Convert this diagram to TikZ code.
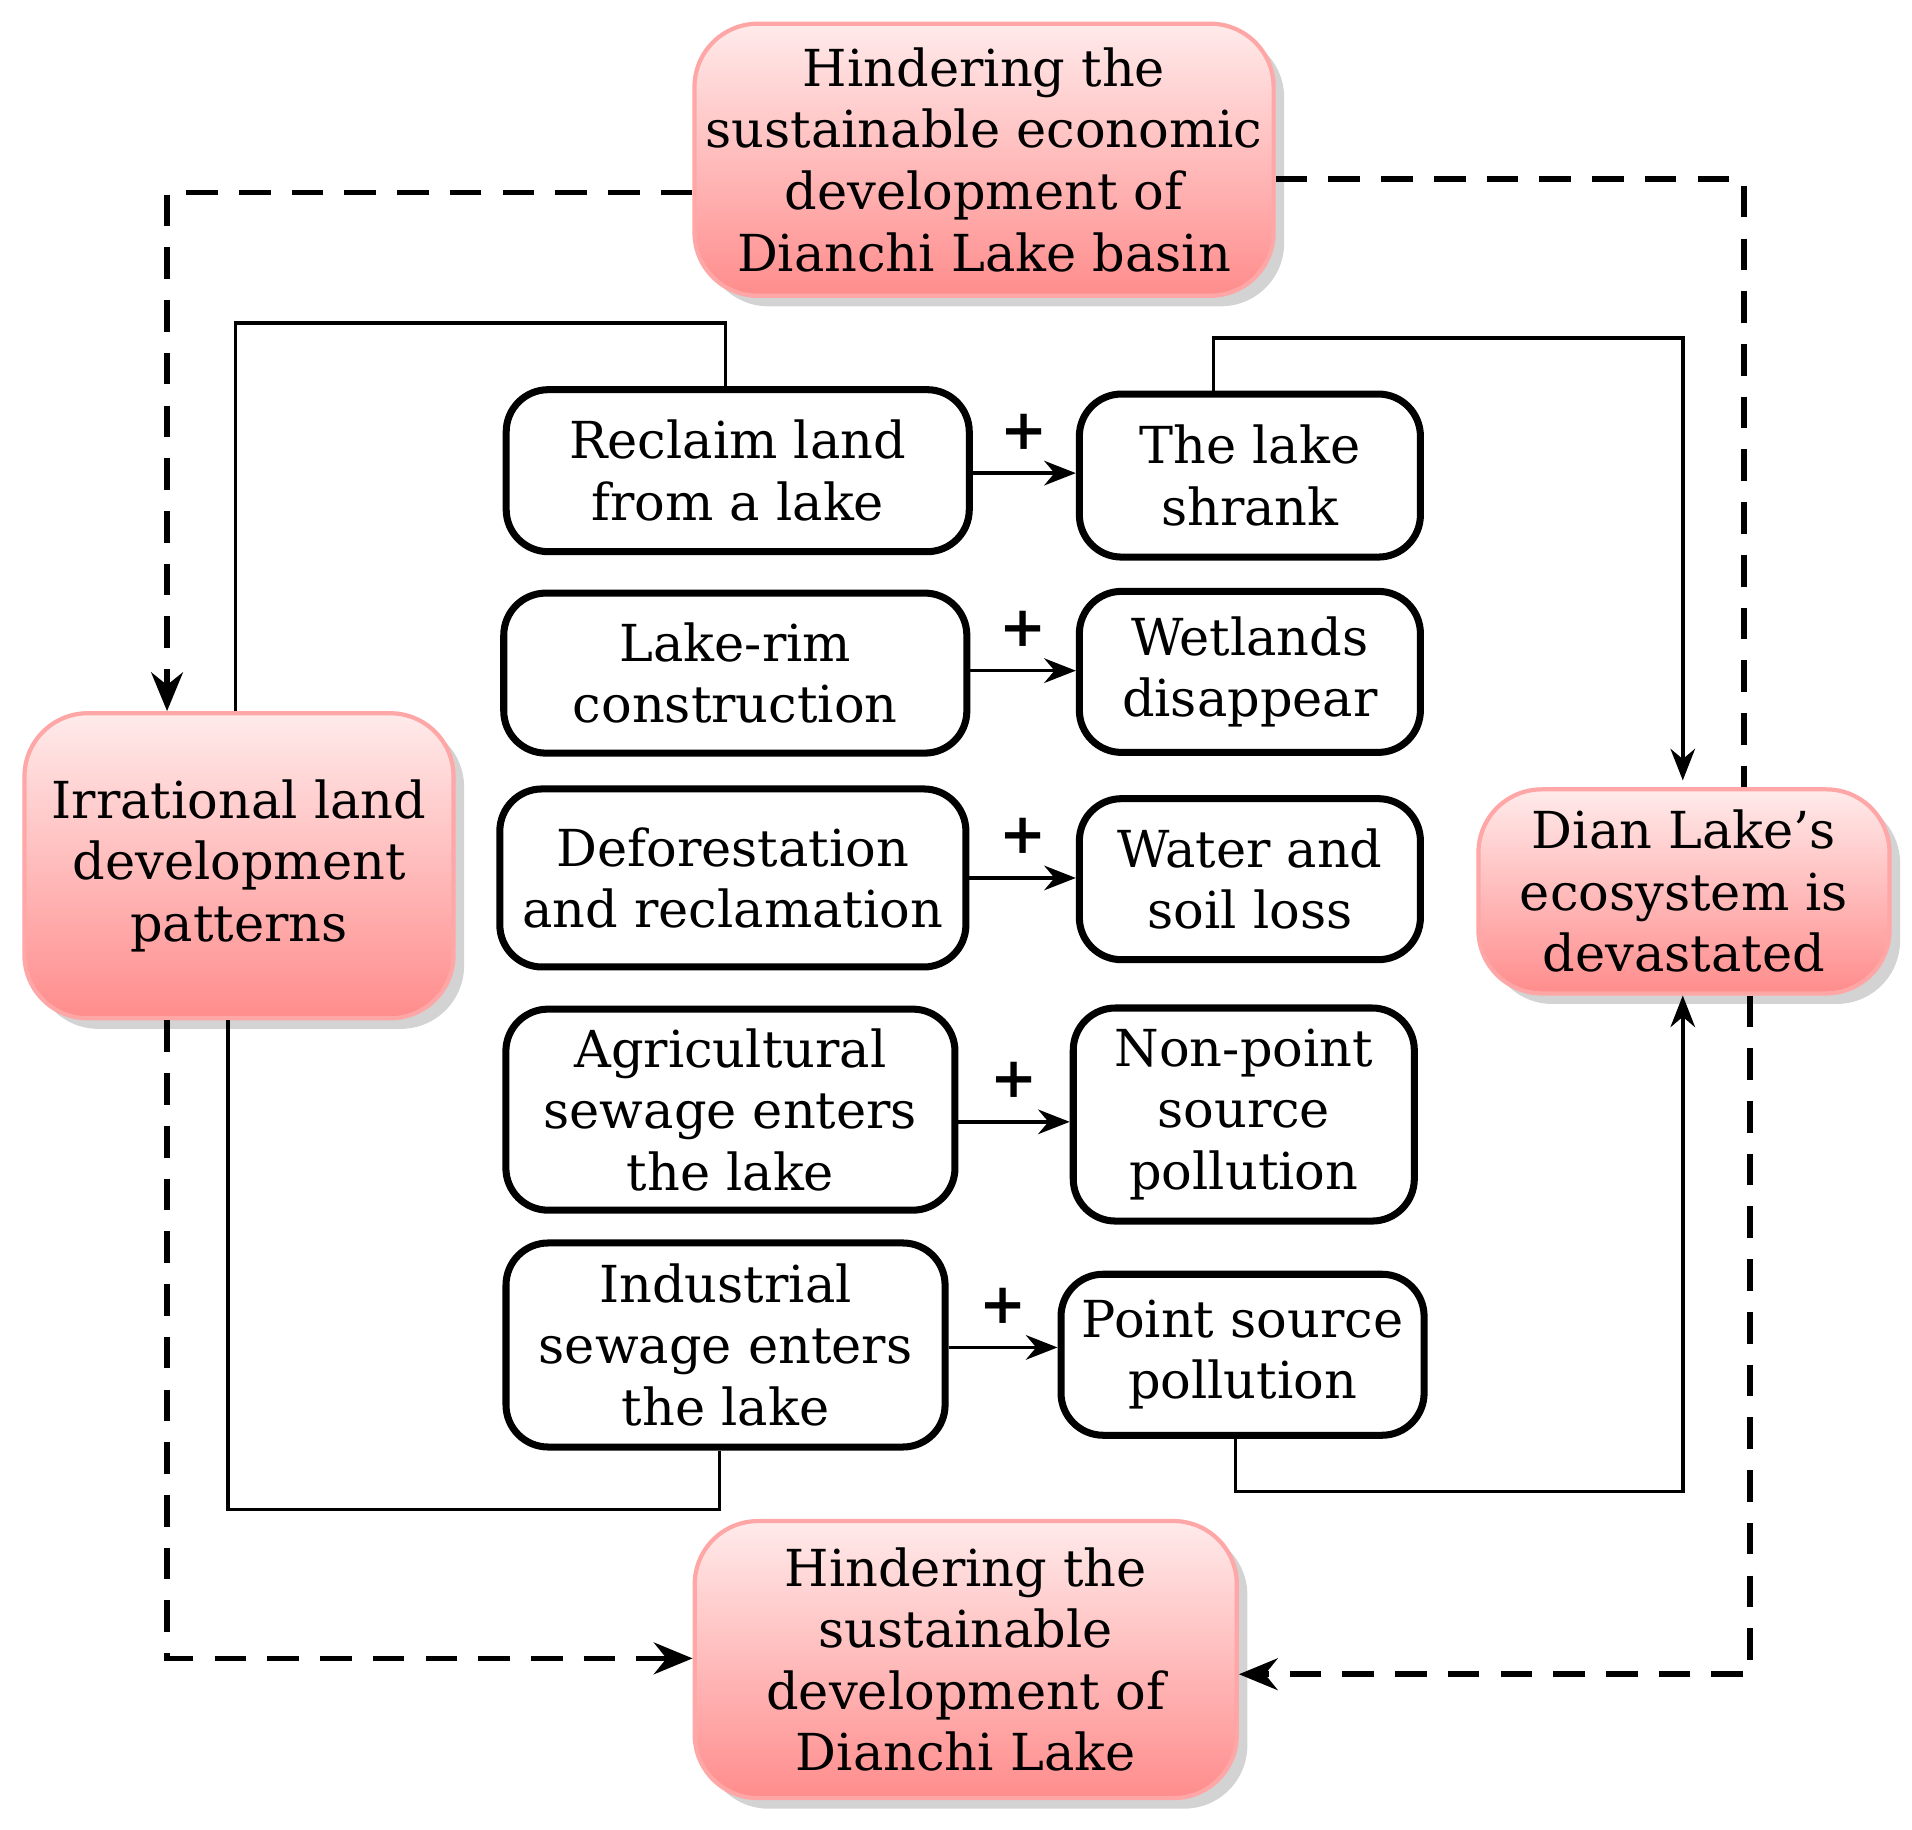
\documentclass[tikz,border=0pt]{standalone}
\usepackage{fontspec}
\setmainfont{DejaVu Serif}
\usetikzlibrary{arrows.meta,shadows}
\begin{document}
\begin{tikzpicture}[x=0.01219cm,y=-0.01219cm,
  pink/.style={draw=red!35!white,line width=1.2pt,rounded corners=18pt,top color=red!8!white,bottom color=red!45!white,align=center,font=\fontsize{14.5}{17.5}\selectfont,drop shadow={opacity=0.35,shadow xshift=3pt,shadow yshift=-3pt},inner sep=0pt},
  wbox/.style={draw,line width=2pt,rounded corners=12pt,fill=white,align=center,font=\fontsize{14.5}{17.5}\selectfont,inner sep=0pt},
  arr/.style={-{Stealth[length=9pt,width=7pt]},line width=1pt},
  ln/.style={line width=1pt},
  dsh/.style={line width=1.6pt,dash pattern=on 9pt off 6pt},
  darr/.style={dsh,-{Stealth[length=11pt,width=9pt]}},
  plus/.style={font=\bfseries\fontsize{16}{16}\selectfont}]
\useasboundingbox (0,0) rectangle (1568,1500);
% pink boxes
\node[pink,minimum width=475\pgflinewidth] (top) at (807,131) [minimum width=5.79cm,minimum height=2.72cm] {Hindering the\\sustainable economic\\development of\\Dianchi Lake basin};
\node[pink,minimum width=4.29cm,minimum height=3.05cm] (left) at (196,710) {Irrational land\\development\\patterns};
\node[pink,minimum width=4.11cm,minimum height=2.04cm] (right) at (1381,731) {Dian Lake's\\ecosystem is\\devastated};
\node[pink,minimum width=5.42cm,minimum height=2.77cm] (bot) at (792,1361) {Hindering the\\sustainable\\development of\\Dianchi Lake};
% left column
\node[wbox,minimum width=4.63cm,minimum height=1.62cm] (l1) at (605,386) {Reclaim land\\from a lake};
\node[wbox,minimum width=4.63cm,minimum height=1.60cm] (l2) at (603,552) {Lake-rim\\construction};
\node[wbox,minimum width=4.66cm,minimum height=1.78cm] (l3) at (601,720) {Deforestation\\and reclamation};
\node[wbox,minimum width=4.49cm,minimum height=2.01cm] (l4) at (599,910) {Agricultural\\sewage enters\\the lake};
\node[wbox,minimum width=4.39cm,minimum height=2.04cm] (l5) at (595,1103) {Industrial\\sewage enters\\the lake};
% right column
\node[wbox,minimum width=3.41cm,minimum height=1.63cm] (r1) at (1025,390) {The lake\\shrank};
\node[wbox,minimum width=3.41cm,minimum height=1.61cm] (r2) at (1025,551) {Wetlands\\disappear};
\node[wbox,minimum width=3.41cm,minimum height=1.61cm] (r3) at (1025,721) {Water and\\soil loss};
\node[wbox,minimum width=3.41cm,minimum height=2.13cm] (r4) at (1020,914) {Non-point\\source\\pollution};
\node[wbox,minimum width=3.63cm,minimum height=1.61cm] (r5) at (1019,1111) {Point source\\pollution};
% plus arrows
\draw[arr] (l1.east|-0,388) -- (r1.west|-0,388) node[midway,above=3pt,plus]{+};
\draw[arr] (l2.east|-0,550) -- (r2.west|-0,550) node[midway,above=3pt,plus]{+};
\draw[arr] (l3.east|-0,720) -- (r3.west|-0,720) node[midway,above=3pt,plus]{+};
\draw[arr] (l4.east|-0,920) -- (r4.west|-0,920) node[midway,above=3pt,plus]{+};
\draw[arr] (l5.east|-0,1105) -- (r5.west|-0,1105) node[midway,above=3pt,plus]{+};
% solid connectors
\draw[ln] (left.north-|193,0) -- (193,265) -- (595,265) -- (l1.north-|595,0);
\draw[ln] (left.south-|187,0) -- (187,1238) -- (590,1238) -- (l5.south-|590,0);
\draw[arr] (r1.north-|995,0) -- (995,277) -- (1380,277) -- (1380,640);
\draw[arr] (r5.south-|1013,0) -- (1013,1223) -- (1380,1223) -- (right.south-|1380,0);
% dashed
\draw[darr] (top.west|-0,158) -- (137,158) -- (left.north-|137,0);
\draw[darr] (left.south-|137,0) -- (137,1360) -- (bot.west|-0,1360);
\draw[dsh] (top.east|-0,147) -- (1430,147) -- (right.north-|1430,0);
\draw[darr] (right.south-|1435,0) -- (1435,1373) -- (bot.east|-0,1373);
\end{tikzpicture}
\end{document}
